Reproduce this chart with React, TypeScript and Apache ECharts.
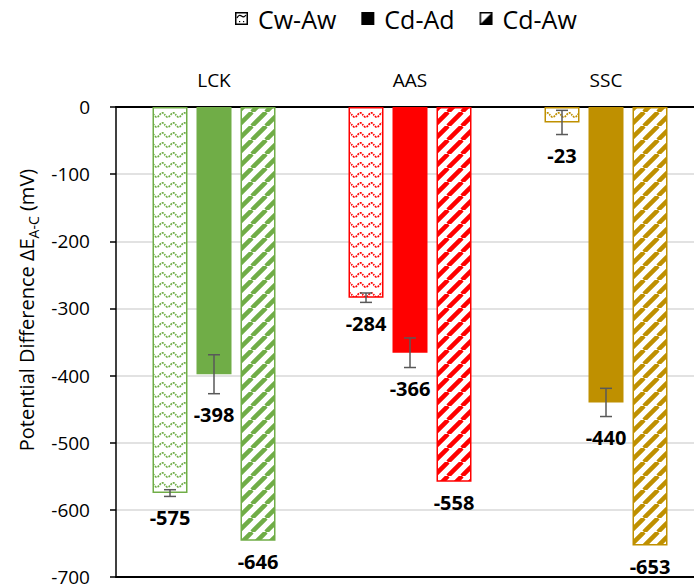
import React, { useEffect, useRef } from 'react';
import * as echarts from 'echarts';

// ---------- data ----------
const categories = ['LCK', 'AAS', 'SSC'];
const seriesNames = ['Cw-Aw', 'Cd-Ad', 'Cd-Aw'];
const cwAwValues = [-575, -284, -23];
const cdAdValues = [-398, -366, -440];
const cdAwValues = [-646, -558, -653];
const cwAwErrors = [5, 7, 18];
const cdAdErrors = [29, 22, 21];
const cdAwErrors = [0, 0, 0];
const yMin = -700;
const yMax = 0;
const yStep = 100;

// ---------- styles ----------
const categoryColors = ['#70AD47', '#FF0000', '#BF9000'];
const FONT = '"Open Sans", "Noto Sans", sans-serif';
const BAR_W = 35;
const BAR_GAP = 9;
const LABEL_GAP = 21;

function waveTile(color: string) {
  const w = 11, h = 10;
  const c = document.createElement('canvas');
  c.width = w; c.height = h;
  const ctx = c.getContext('2d')!;
  ctx.fillStyle = '#ffffff';
  ctx.fillRect(0, 0, w, h);
  ctx.strokeStyle = color;
  ctx.lineWidth = 1.7;
  ctx.setLineDash([2, 1]);
  ctx.beginPath();
  for (let x = -1; x <= w + 1; x += 0.5) {
    const y = 5 + 2.2 * Math.sin((2 * Math.PI * x) / w);
    if (x === -1) ctx.moveTo(x, y); else ctx.lineTo(x, y);
  }
  ctx.stroke();
  return c;
}

function stripeTile(color: string) {
  const p = 14;
  const c = document.createElement('canvas');
  c.width = p; c.height = p;
  const ctx = c.getContext('2d')!;
  ctx.fillStyle = '#ffffff';
  ctx.fillRect(0, 0, p, p);
  ctx.strokeStyle = color;
  ctx.lineWidth = 4.5;
  ctx.beginPath();
  for (const x0 of [-p, 0, p]) {
    ctx.moveTo(x0, p);
    ctx.lineTo(x0 + p, 0);
  }
  ctx.stroke();
  return c;
}

function legendIcon(kind: number) {
  const s = 13;
  const c = document.createElement('canvas');
  c.width = s; c.height = s;
  const ctx = c.getContext('2d')!;
  if (kind === 1) {
    ctx.fillStyle = '#000';
    ctx.fillRect(0, 0, s, s);
    return c.toDataURL();
  }
  ctx.fillStyle = '#fff';
  ctx.fillRect(0, 0, s, s);
  ctx.fillStyle = '#000';
  if (kind === 0) {
    ctx.strokeStyle = '#000';
    ctx.lineWidth = 1.3;
    ctx.beginPath();
    ctx.moveTo(2, 6);
    ctx.quadraticCurveTo(4, 2, 6.5, 4);
    ctx.quadraticCurveTo(9, 6, 11, 3);
    ctx.stroke();
    ctx.fillRect(4, 9, 1.2, 1.2);
    ctx.fillRect(8, 9, 1.2, 1.2);
  } else {
    ctx.beginPath();
    ctx.moveTo(s, 0);
    ctx.lineTo(s, s);
    ctx.lineTo(0, s);
    ctx.closePath();
    ctx.fill();
  }
  ctx.strokeStyle = '#000';
  ctx.lineWidth = 1.5;
  ctx.setLineDash([]);
  ctx.strokeRect(0.75, 0.75, s - 1.5, s - 1.5);
  return c.toDataURL();
}

export default function App() {
  const ref = useRef<HTMLDivElement>(null);

  useEffect(() => {
    if (!ref.current) return;
    const chart = echarts.init(ref.current, null, { renderer: 'svg' });

    const waves = categoryColors.map(waveTile);
    const stripes = categoryColors.map(stripeTile);

    const cwData = cwAwValues.map((v, i) => ({
      value: v,
      itemStyle: {
        color: { image: waves[i], repeat: 'repeat', imageWidth: waves[i].width, imageHeight: waves[i].height },
        borderColor: categoryColors[i],
        borderWidth: 1.5,
      },
    }));
    const cdAdData = cdAdValues.map((v, i) => ({
      value: v,
      itemStyle: { color: categoryColors[i] },
    }));
    const cdAwData = cdAwValues.map((v, i) => ({
      value: v,
      itemStyle: {
        color: { image: stripes[i], repeat: 'repeat', imageWidth: stripes[i].width, imageHeight: stripes[i].height },
        borderColor: categoryColors[i],
        borderWidth: 1.5,
      },
    }));

    const groups = [
      [cwAwValues, cwAwErrors],
      [cdAdValues, cdAdErrors],
      [cdAwValues, cdAwErrors],
    ];
    const errData: number[][] = [];
    groups.forEach(([vals, errs], si) => {
      vals.forEach((v, ci) => errData.push([ci, v, errs[ci], si]));
    });

    const option: any = {
      animation: false,
      backgroundColor: '#ffffff',
      legend: {
        left: 235,
        top: 6,
        padding: 0,
        itemWidth: 13,
        itemHeight: 13,
        itemGap: 25,
        selectedMode: false,
        textStyle: { fontFamily: FONT, fontSize: 25, color: '#000', padding: [0, 0, 0, 5] },
        data: seriesNames.map((n, i) => ({ name: n, icon: 'image://' + legendIcon(i) })),
      },
      grid: {
        left: 116,
        top: 107,
        width: 588,
        height: 470,
        containLabel: false,
        outerBoundsMode: 'none',
      },
      xAxis: [
        {
          type: 'category',
          data: categories,
          position: 'top',
          axisLine: { onZero: false, lineStyle: { color: '#000', width: 2 } },
          axisTick: { show: false },
          axisLabel: { margin: 18, fontFamily: FONT, fontSize: 19, color: '#000' },
          splitLine: { show: false },
        },
        {
          type: 'category',
          data: categories,
          position: 'bottom',
          axisLine: { onZero: false, lineStyle: { color: '#000', width: 2 } },
          axisTick: { show: false },
          axisLabel: { show: false },
          splitLine: { show: false },
        },
      ],
      yAxis: {
        type: 'value',
        min: yMin,
        max: yMax,
        interval: yStep,
        axisLine: { show: true, lineStyle: { color: '#000', width: 1.5 } },
        axisTick: { show: true, length: 6, lineStyle: { color: '#000', width: 1.5 } },
        axisLabel: { margin: 26, fontFamily: FONT, fontSize: 19, color: '#000' },
        splitLine: { show: true, lineStyle: { color: '#d9d9d9', width: 1.5 } },
      },
      graphic: [
        {
          type: 'text',
          x: 26,
          y: 310,
          rotation: Math.PI / 2,
          style: {
            text: '{a|Potential Difference ΔE}{s|A-C}{a| (mV)}',
            align: 'center',
            verticalAlign: 'middle',
            fill: '#000',
            rich: {
              a: { fontFamily: FONT, fontSize: 20, lineHeight: 28, verticalAlign: 'middle', fill: '#000' },
              s: { fontFamily: FONT, fontSize: 14, lineHeight: 14, verticalAlign: 'bottom', fill: '#000' },
            },
          },
        },
      ],
      series: [
        { name: seriesNames[0], type: 'bar', barWidth: BAR_W, barGap: `${(BAR_GAP / BAR_W) * 100}%`, data: cwData },
        { name: seriesNames[1], type: 'bar', barWidth: BAR_W, barGap: `${(BAR_GAP / BAR_W) * 100}%`, data: cdAdData },
        { name: seriesNames[2], type: 'bar', barWidth: BAR_W, barGap: `${(BAR_GAP / BAR_W) * 100}%`, data: cdAwData },
        {
          type: 'custom',
          z: 10,
          xAxisIndex: 0,
          yAxisIndex: 0,
          encode: { x: 0, y: 1 },
          data: errData,
          renderItem: (params: any, api: any) => {
            const ci = api.value(0);
            const v = api.value(1);
            const e = api.value(2);
            const si = api.value(3);
            const base = api.coord([ci, v]);
            const x = base[0] + (si - 1) * (BAR_W + BAR_GAP);
            let endY = base[1];
            const children: any[] = [];
            if (e > 0) {
              const yTop = api.coord([ci, v + e])[1];
              const yBot = api.coord([ci, v - e])[1];
              const ls = { stroke: '#595959', lineWidth: 1.5 };
              children.push({ type: 'line', shape: { x1: x, y1: yTop, x2: x, y2: yBot }, style: ls });
              children.push({ type: 'line', shape: { x1: x - 6, y1: yTop, x2: x + 6, y2: yTop }, style: ls });
              children.push({ type: 'line', shape: { x1: x - 6, y1: yBot, x2: x + 6, y2: yBot }, style: ls });
              endY = Math.max(endY, yBot);
            }
            children.push({
              type: 'text',
              style: {
                text: String(v),
                x,
                y: endY + LABEL_GAP,
                align: 'center',
                verticalAlign: 'middle',
                fontFamily: FONT,
                fontSize: 20,
                fontWeight: 'bold',
                fill: '#000',
              },
            });
            return { type: 'group', children };
          },
        },
      ],
    };

    chart.setOption(option);
    return () => chart.dispose();
  }, []);

  return (
    <div
      ref={ref}
      style={{ position: 'absolute', left: 0, top: 0, width: 694, height: 587, background: '#fff' }}
    />
  );
}
